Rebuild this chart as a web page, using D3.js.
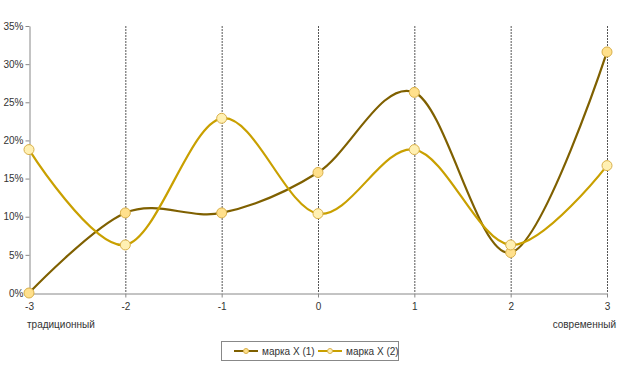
<!DOCTYPE html>
<html><head><meta charset="utf-8">
<script src="https://cdn.jsdelivr.net/npm/d3@7"></script>
<style>body{margin:0;background:#fff}svg{display:block;font-family:"Liberation Sans",Arial,sans-serif}</style>
</head><body><svg id="c" width="619" height="368"></svg>
<script>
const categories = [-3, -2, -1, 0, 1, 2, 3];
const seriesNames = ["марка X (1)", "марка X (2)"];
const series1 = [0, 10.5, 10.5, 15.8, 26.3, 5.3, 31.6];
const series2 = [18.8, 6.3, 22.9, 10.4, 18.8, 6.3, 16.7];
const yTicks = [0, 5, 10, 15, 20, 25, 30, 35];
const endLabels = ["традиционный", "современный"];
const lineColors = ["#7F6000", "#C9A000"];
const markerFills = ["#FFE08C", "#FFF0B3"];

const svg = d3.select("#c");
const x = d3.scaleLinear().domain([-3, 3]).range([29, 607]);
const y = d3.scaleLinear().domain([0, 35]).range([293, 26]);

// vertical dashed grid
svg.append("g").selectAll("line").data(categories.filter(c => c !== -3)).join("line")
  .attr("x1", d => x(d) + 0.5).attr("x2", d => x(d) + 0.5)
  .attr("y1", y(35)).attr("y2", y(0))
  .attr("stroke", "#555").attr("stroke-width", 1).attr("stroke-dasharray", "2,1");

// y axis
const ya = svg.append("g").attr("transform", "translate(29.5,0)")
  .call(d3.axisLeft(y).tickValues(yTicks).tickFormat(d => d + "%").tickSize(4).tickSizeOuter(0));
ya.select(".domain").attr("stroke", "#888");
ya.selectAll(".tick line").attr("stroke", "#888");
ya.selectAll("text").attr("font-size", 10).attr("fill", "#333").attr("font-family", "Liberation Sans, Arial, sans-serif").attr("x", -6);

// x axis
const xa = svg.append("g").attr("transform", "translate(0,293.5)")
  .call(d3.axisBottom(x).tickValues(categories).tickFormat(d => String(d)).tickSize(4).tickSizeOuter(0));
xa.select(".domain").attr("stroke", "#888");
xa.selectAll(".tick line").attr("stroke", "#888");
xa.selectAll("text").attr("font-size", 10).attr("fill", "#333").attr("font-family", "Liberation Sans, Arial, sans-serif").attr("dy", "0.9em");

svg.append("text").attr("x", 27).attr("y", 328).attr("font-size", 10).attr("fill", "#333").text(endLabels[0]);
svg.append("text").attr("x", 616).attr("y", 328).attr("font-size", 10).attr("fill", "#333").attr("text-anchor", "end").text(endLabels[1]);

const line = d3.line().x((d, i) => x(categories[i])).y(d => y(d)).curve(d3.curveCatmullRom.alpha(0));
[series1, series2].forEach((s, k) => {
  svg.append("path").datum(s).attr("d", line).attr("fill", "none")
    .attr("stroke", lineColors[k]).attr("stroke-width", 2.2);
});
[series1, series2].forEach((s, k) => {
  svg.append("g").selectAll("circle").data(s).join("circle")
    .attr("cx", (d, i) => x(categories[i])).attr("cy", d => y(d)).attr("r", 5)
    .attr("fill", markerFills[k]).attr("stroke", "#D9B04A").attr("stroke-width", 1);
});

// legend
const lg = svg.append("g");
lg.append("rect").attr("x", 221.5).attr("y", 341.5).attr("width", 177).attr("height", 19)
  .attr("fill", "#fff").attr("stroke", "#888");
const lx = [234, 318];
seriesNames.forEach((n, k) => {
  lg.append("line").attr("x1", lx[k]).attr("x2", lx[k] + 24).attr("y1", 351).attr("y2", 351)
    .attr("stroke", lineColors[k]).attr("stroke-width", 2);
  lg.append("circle").attr("cx", lx[k] + 12).attr("cy", 351).attr("r", 2.5)
    .attr("fill", markerFills[k]).attr("stroke", "#D9B04A");
  lg.append("text").attr("x", lx[k] + 28).attr("y", 354.5).attr("font-size", 10).attr("fill", "#333").text(n);
});
</script></body></html>
